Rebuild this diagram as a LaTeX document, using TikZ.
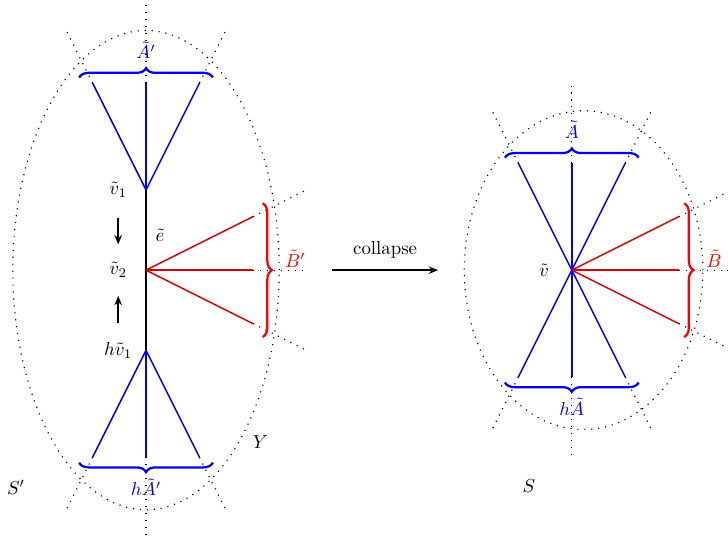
\documentclass[tikz,border=0pt]{standalone}
\usetikzlibrary{decorations.pathreplacing,arrows.meta}
\begin{document}
\begin{tikzpicture}[
  blueline/.style={blue, thick},
  redline/.style={red!85!black, thick},
  ext/.style={dash pattern=on 0.6pt off 3.1pt, line width=0.6pt},
  bracestyle/.style={decorate, decoration={brace, amplitude=5pt}, line width=1.2pt},
  lbl/.style={inner sep=1pt},
  arr/.style={-{Stealth[length=5pt,width=4pt]}, thick},
]
\useasboundingbox (-2.73,-5.05) rectangle (10.88,5.05);
\clip (-2.73,-5.05) rectangle (10.88,5.05);

% ---------------- left figure S' ----------------
\coordinate (v1) at (0,1.5);
\coordinate (v2) at (0,0);
\coordinate (hv1) at (0,-1.5);
\draw[ext] (0,0) ellipse [x radius=2.49, y radius=4.48];
\draw[thick] (v1) -- (hv1);
% top fan
\coordinate (ta1) at (-1,3.5); \coordinate (ta2) at (0,3.5); \coordinate (ta3) at (1,3.5);
\coordinate (te1) at (-1.5,4.5); \coordinate (te2) at (0,5.05); \coordinate (te3) at (1.5,4.5);
\foreach \i in {1,2,3} {
  \draw[blueline] (v1) -- (ta\i);
  \draw[ext] (ta\i) -- (te\i);
}
% bottom fan
\coordinate (ba1) at (-1,-3.5); \coordinate (ba2) at (0,-3.5); \coordinate (ba3) at (1,-3.5);
\coordinate (be1) at (-1.5,-4.5); \coordinate (be2) at (0,-5.05); \coordinate (be3) at (1.5,-4.5);
\foreach \i in {1,2,3} {
  \draw[blueline] (hv1) -- (ba\i);
  \draw[ext] (ba\i) -- (be\i);
}
% red fan
\coordinate (ra1) at (2,1); \coordinate (ra2) at (2,0); \coordinate (ra3) at (2,-1);
\coordinate (re1) at (3,1.5); \coordinate (re2) at (3,0); \coordinate (re3) at (3,-1.5);
\foreach \i in {1,2,3} {
  \draw[redline] (v2) -- (ra\i);
  \draw[ext] (ra\i) -- (re\i);
}
% braces
\coordinate (tb1) at (-1.25,3.6); \coordinate (tb2) at (1.25,3.6);
\draw[bracestyle, blue] (tb1) -- (tb2);
\coordinate (bb1) at (-1.25,-3.6); \coordinate (bb2) at (1.25,-3.6);
\draw[bracestyle, blue] (bb2) -- (bb1);
\coordinate (rb1) at (2.18,1.25); \coordinate (rb2) at (2.18,-1.25);
\draw[bracestyle, red] (rb1) -- (rb2);
% labels
\node[lbl, blue] (lA) at (0,4.11) {$\tilde{A}'$};
\node[lbl, blue] (lhA) at (0,-4.06) {$h\tilde{A}'$};
\node[lbl, red] (lB) at (2.79,0.22) {$\tilde{B}'$};
\node[lbl] (lv1) at (-0.52,1.5) {$\tilde{v}_1$};
\node[lbl] (lv2) at (-0.52,0) {$\tilde{v}_2$};
\node[lbl] (lhv1) at (-0.52,-1.5) {$h\tilde{v}_1$};
\node[lbl] (le) at (0.26,0.65) {$\tilde{e}$};
\coordinate (d1) at (-0.52,0.98); \coordinate (d2) at (-0.52,0.48);
\draw[arr] (d1) -- (d2);
\coordinate (u1) at (-0.52,-0.98); \coordinate (u2) at (-0.52,-0.48);
\draw[arr] (u1) -- (u2);
\node[lbl] (lY) at (2.14,-3.21) {$Y$};
\node[lbl] (lSp) at (-2.43,-4.06) {$S'$};

% ---------------- collapse arrow ----------------
\coordinate (c1) at (3.48,0); \coordinate (c2) at (5.46,0);
\draw[arr] (c1) -- node[above=5pt, inner sep=1pt] (lc) {collapse} (c2);

% ---------------- right figure S ----------------
\begin{scope}[shift={(7.96,0)}]
\coordinate (v) at (0,0);
\draw[ext] (0.22,0) ellipse [x radius=2.23, y radius=2.98];
\coordinate (sa1) at (-1,2); \coordinate (sa2) at (0,2); \coordinate (sa3) at (1,2);
\coordinate (se1) at (-1.5,3); \coordinate (se2) at (0,3.5); \coordinate (se3) at (1.5,3);
\coordinate (sb1) at (-1,-2); \coordinate (sb2) at (0,-2); \coordinate (sb3) at (1,-2);
\coordinate (sf1) at (-1.5,-3); \coordinate (sf2) at (0,-3.5); \coordinate (sf3) at (1.5,-3);
\coordinate (sr1) at (2,1); \coordinate (sr2) at (2,0); \coordinate (sr3) at (2,-1);
\coordinate (sg1) at (3,1.5); \coordinate (sg2) at (3,0); \coordinate (sg3) at (3,-1.5);
\foreach \i in {1,2,3} {
  \draw[blueline] (v) -- (sa\i);
  \draw[ext] (sa\i) -- (se\i);
  \draw[blueline] (v) -- (sb\i);
  \draw[ext] (sb\i) -- (sf\i);
  \draw[redline] (v) -- (sr\i);
  \draw[ext] (sr\i) -- (sg\i);
}
\coordinate (stb1) at (-1.25,2.1); \coordinate (stb2) at (1.25,2.1);
\draw[bracestyle, blue] (stb1) -- (stb2);
\coordinate (sbb1) at (-1.25,-2.1); \coordinate (sbb2) at (1.25,-2.1);
\draw[bracestyle, blue] (sbb2) -- (sbb1);
\coordinate (srb1) at (2.1,1.25); \coordinate (srb2) at (2.1,-1.25);
\draw[bracestyle, red] (srb1) -- (srb2);
\node[lbl, blue] (sA) at (0,2.62) {$\tilde{A}$};
\node[lbl, blue] (shA) at (0,-2.56) {$h\tilde{A}$};
\node[lbl, red] (sB) at (2.66,0.22) {$\tilde{B}$};
\node[lbl] (sv) at (-0.52,0) {$\tilde{v}$};
\node[lbl] (sS) at (-0.8,-4.03) {$S$};
\end{scope}
\end{tikzpicture}
\end{document}
